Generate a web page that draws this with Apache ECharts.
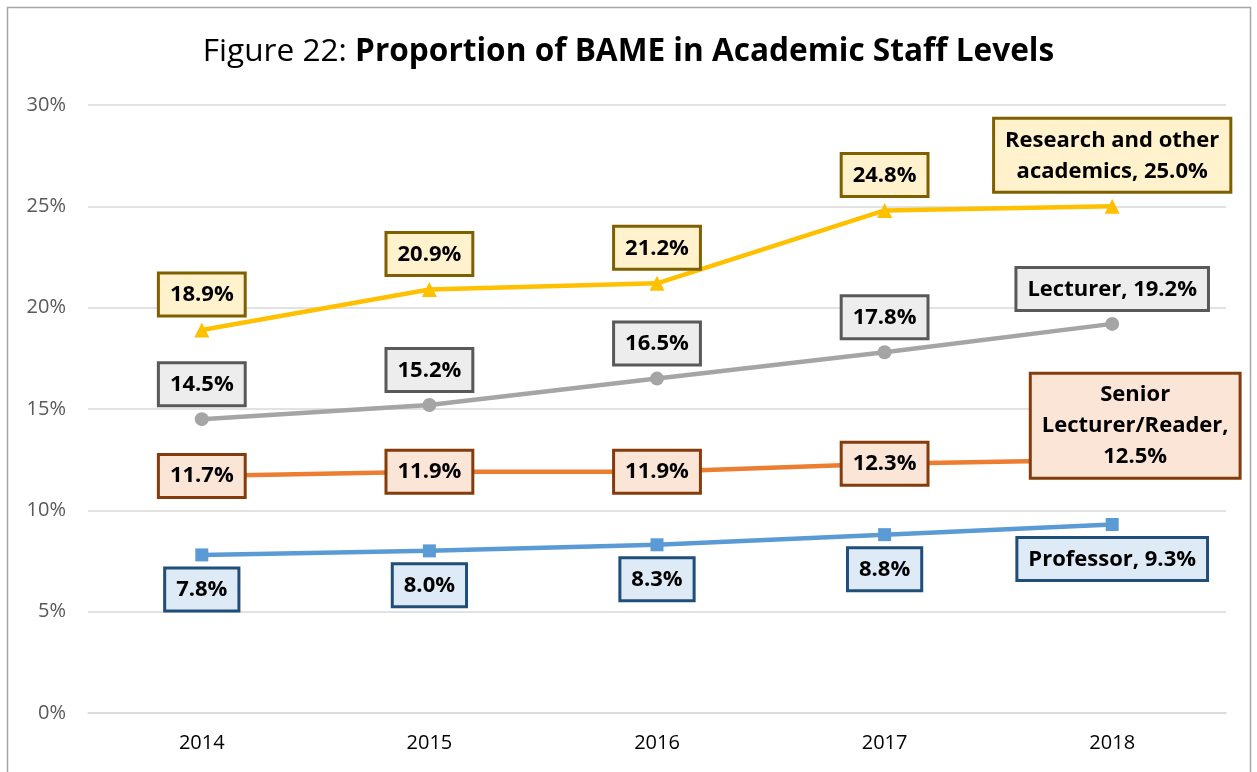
<!DOCTYPE html>
<html>
<head>
<meta charset="utf-8">
<title>Figure 22</title>
<script src="https://cdn.jsdelivr.net/npm/echarts@6/dist/echarts.min.js"></script>
<style>
  html, body { margin: 0; padding: 0; background: #fff; }
  #chart { width: 1257px; height: 772px; }
</style>
</head>
<body>
<div id="chart"></div>
<script>
// data
var years = ['2014', '2015', '2016', '2017', '2018']
var professor = [7.8, 8.0, 8.3, 8.8, 9.3]
var seniorLecturer = [11.7, 11.9, 11.9, 12.3, 12.5]
var lecturer = [14.5, 15.2, 16.5, 17.8, 19.2]
var research = [18.9, 20.9, 21.2, 24.8, 25.0]
var yTicks = [0, 5, 10, 15, 20, 25, 30]

// text shown on the last point of each line
var endNames = ['Professor', 'Senior\nLecturer/Reader', 'Lecturer', 'Research and other\nacademics']
var endSeps = [', ', ',\n', ', ', ', ']

var chart = echarts.init(document.getElementById('chart'))

var font = '"Open Sans", "DejaVu Sans", sans-serif'

function boxLabel(fill, border, pos) {
  return {
    show: true,
    position: pos,
    distance: 8,
    fontFamily: font,
    fontWeight: 'bold',
    fontSize: 22,
    lineHeight: 31,
    color: '#000',
    backgroundColor: fill,
    borderColor: border,
    borderWidth: 3,
    padding: [5, 10, 4, 10],
    align: 'center',
    formatter: function (p) {
      return p.value.toFixed(1) + '%'
    }
  }
}

function makeSeries(idx, name, values, color, symbol, size, fill, border, pos, endPos) {
  var last = values.length - 1
  var data = values.map(function (v, i) {
    if (i !== last) return v
    var lab = {
      formatter: function (p) {
        return endNames[idx] + endSeps[idx] + p.value.toFixed(1) + '%'
      }
    }
    if (endPos) {
      // label moved up and right of the last point
      lab.position = endPos
      lab.align = 'center'
      lab.verticalAlign = 'middle'
    }
    return { value: v, label: lab }
  })
  return {
    name: name,
    type: 'line',
    data: data,
    symbol: symbol,
    symbolSize: size,
    showAllSymbol: true,
    lineStyle: { color: color, width: 4.5 },
    itemStyle: { color: color },
    label: boxLabel(fill, border, pos),
    labelLayout: { hideOverlap: false },
    animation: false
  }
}

var option = {
  animation: false,
  title: {
    text: '{a|Figure 22: }{b|Proportion of BAME in Academic Staff Levels}',
    left: 'center',
    top: 31,
    textStyle: {
      fontWeight: 'normal',
      rich: {
        a: { fontFamily: font, fontSize: 31.6, fontWeight: 'normal', color: '#000' },
        b: { fontFamily: font, fontSize: 31.6, fontWeight: 'bold', color: '#000' }
      }
    }
  },
  graphic: [{
    type: 'rect',
    shape: { x: 7.5, y: 7.5, width: 1243, height: 900 },
    style: { fill: 'none', stroke: '#a6a6a6', lineWidth: 1.5 },
    silent: true
  }],
  grid: { left: 88, right: 31, top: 105, bottom: 59 },
  xAxis: {
    type: 'category',
    data: years,
    boundaryGap: true,
    axisLine: { show: true, lineStyle: { color: '#d9d9d9', width: 1.5 } },
    axisTick: { show: false },
    axisLabel: { fontFamily: font, fontSize: 20, color: '#000', margin: 20 }
  },
  yAxis: {
    type: 'value',
    min: yTicks[0],
    max: yTicks[yTicks.length - 1],
    interval: yTicks[1] - yTicks[0],
    axisLine: { show: false },
    axisTick: { show: false },
    axisLabel: { fontFamily: font, fontSize: 20, color: '#595959', margin: 22, formatter: '{value}%' },
    splitLine: { lineStyle: { color: '#d9d9d9', width: 1.5 } }
  },
  series: [
    makeSeries(0, 'Professor', professor, '#5b9bd5', 'rect', 13, '#deebf7', '#1f4e79', 'bottom', null),
    makeSeries(1, 'Senior Lecturer/Reader', seniorLecturer, '#ed7d31', 'circle', 8, '#fbe5d6', '#843c0c', 'inside', [27, -30]),
    makeSeries(2, 'Lecturer', lecturer, '#a5a5a5', 'circle', 14, '#ededed', '#595959', 'top', null),
    makeSeries(3, 'Research and other academics', research, '#ffc000', 'triangle', 15, '#fff2cc', '#7f6000', 'top', null)
  ]
}

chart.setOption(option)
</script>
</body>
</html>
